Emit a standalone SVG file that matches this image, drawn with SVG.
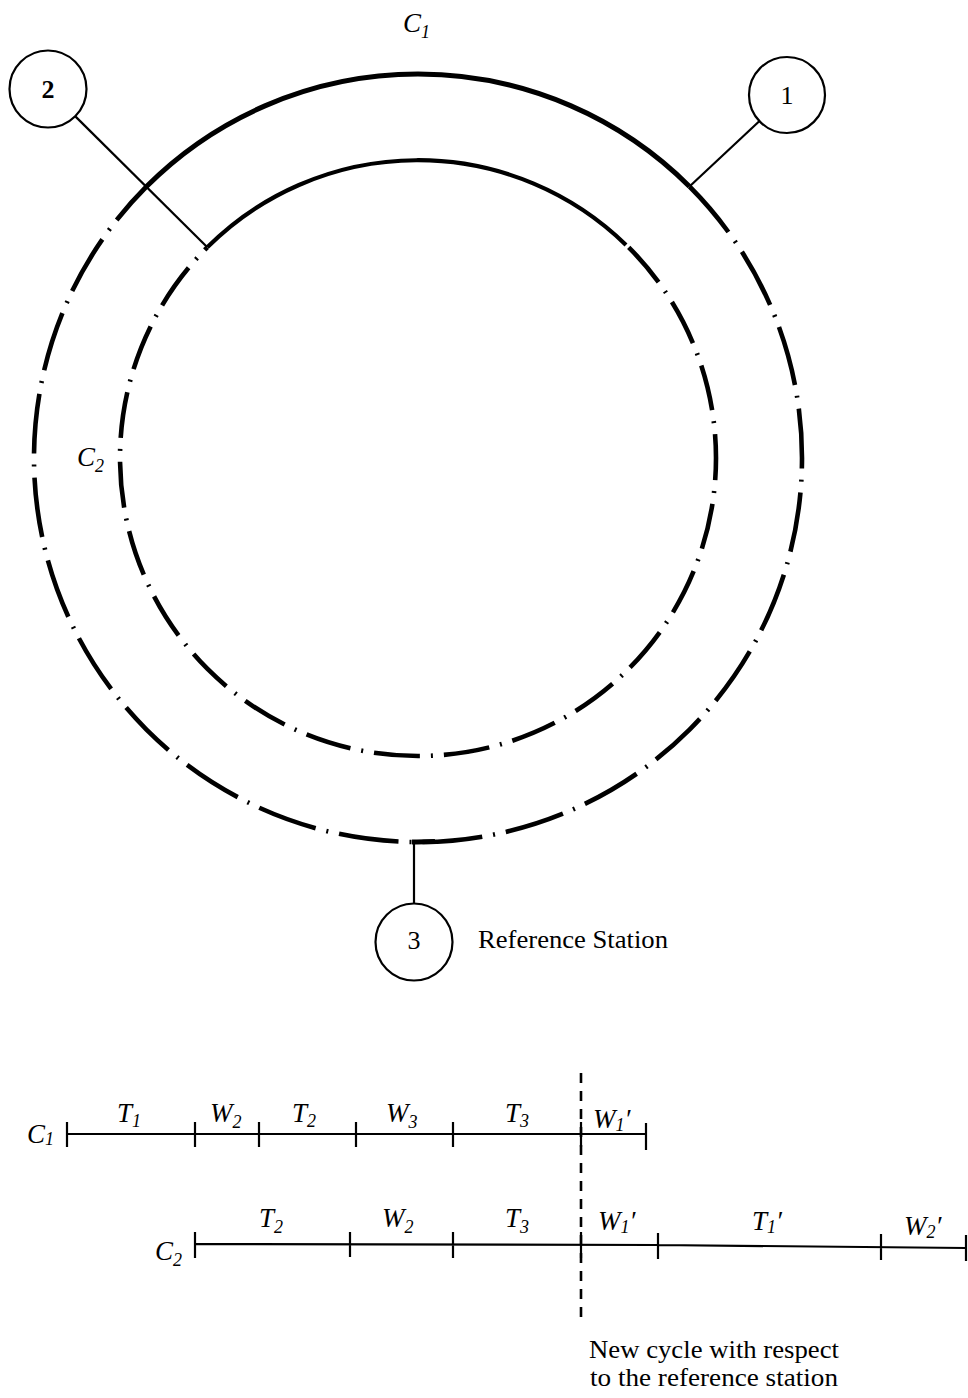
<svg xmlns="http://www.w3.org/2000/svg" width="968" height="1398" viewBox="0 0 968 1398">
<style>
.bg{fill:#fff}
.ring{fill:none;stroke:#000}
.solidO{stroke-width:5}
.solidI{stroke-width:4.2}
.dashO{stroke-width:4.6;stroke-dasharray:60 11 2 11}
.dashI{stroke-width:4.6;stroke-dasharray:46 11 2 11}
.st{fill:#fff;stroke:#000;stroke-width:2.2}
.wire{stroke:#000;stroke-width:2.2;fill:none}
.num{font-family:"Liberation Serif","Times New Roman",serif;font-size:26px;text-anchor:middle;fill:#000}
.txt{font-family:"Liberation Serif","Times New Roman",serif;font-size:26px;fill:#000}
.lab{font-family:"Liberation Serif","Times New Roman",serif;font-style:italic;font-size:27px;fill:#000}
.sub{font-size:18px}
.tl{stroke:#000;stroke-width:2.2;fill:none}
.vd{stroke:#000;stroke-width:2.6;stroke-dasharray:10 8;fill:none}
</style>
<rect class="bg" x="0" y="0" width="968" height="1398"/>
<g id="connectors">
  <path class="ring solidO" d="M 146.5 186.5 A 384 384 0 0 1 689.5 186.5"/>
  <path class="ring dashO" d="M 689.5 186.5 A 384 384 0 1 1 146.5 186.5"/>
  <path class="ring solidO" d="M 412 842 A 384 384 0 0 0 435 841.6"/>
  <path class="ring solidI" d="M 207.3 247.3 A 298 298 0 0 1 626 245"/>
  <path class="ring dashI" d="M 628.7 247.3 A 298 298 0 1 1 207.3 247.3"/>
  <line class="wire" x1="75.6" y1="116.6" x2="207.3" y2="247.3"/>
  <line class="wire" x1="759.5" y1="121" x2="689.5" y2="186.5"/>
  <line class="wire" x1="414" y1="842" x2="414" y2="904"/>
</g>
<g id="ring-labels">
  <text class="lab" x="403" y="32">C<tspan class="sub" dy="6">1</tspan></text>
  <text class="lab" x="77" y="466">C<tspan class="sub" dy="6">2</tspan></text>
</g>
<g id="station2">
  <circle class="st" cx="48" cy="89" r="38.5"/>
  <text class="num" x="48" y="98" font-weight="bold">2</text>
</g>
<g id="station1">
  <circle class="st" cx="787" cy="95" r="38"/>
  <text class="num" x="787" y="104">1</text>
</g>
<g id="station3">
  <circle class="st" cx="414" cy="942" r="38.5"/>
  <text class="num" x="414" y="949">3</text>
  <text class="txt" x="478" y="948" textLength="190" lengthAdjust="spacingAndGlyphs">Reference Station</text>
</g>
<g id="timeline-c1">
  <path class="tl" d="M 67 1134 H 646 M 67 1122 V 1147 M 195 1122 V 1147 M 259 1122 V 1147 M 356 1122 V 1147 M 453 1122 V 1147 M 646 1123 V 1150"/>
  <text class="lab" x="27" y="1143">C<tspan class="sub" dy="2">1</tspan></text>
  <text class="lab" x="117" y="1122">T<tspan class="sub" dy="5">1</tspan></text>
  <text class="lab" x="210" y="1122">W<tspan class="sub" dy="6">2</tspan></text>
  <text class="lab" x="292" y="1122">T<tspan class="sub" dy="5">2</tspan></text>
  <text class="lab" x="386" y="1122">W<tspan class="sub" dy="6">3</tspan></text>
  <text class="lab" x="505" y="1122">T<tspan class="sub" dy="5">3</tspan></text>
  <text class="lab" x="593" y="1128">W<tspan class="sub" dy="3">1</tspan><tspan dy="-3">′</tspan></text>
</g>
<g id="timeline-c2">
  <path class="tl" d="M 195 1244 L 658 1245 L 966 1248 M 195 1232 V 1258 M 350 1232 V 1257 M 453 1232 V 1258 M 658 1233 V 1259 M 881 1234 V 1260 M 966 1235 V 1261"/>
  <text class="lab" x="155" y="1260">C<tspan class="sub" dy="6">2</tspan></text>
  <text class="lab" x="259" y="1227">T<tspan class="sub" dy="6">2</tspan></text>
  <text class="lab" x="382" y="1227">W<tspan class="sub" dy="6">2</tspan></text>
  <text class="lab" x="505" y="1227">T<tspan class="sub" dy="6">3</tspan></text>
  <text class="lab" x="598" y="1230">W<tspan class="sub" dy="3">1</tspan><tspan dy="-3">′</tspan></text>
  <text class="lab" x="752" y="1230">T<tspan class="sub" dy="3">1</tspan><tspan dy="-3">′</tspan></text>
  <text class="lab" x="904" y="1235">W<tspan class="sub" dy="3">2</tspan><tspan dy="-3">′</tspan></text>
</g>
<g id="new-cycle">
  <line class="tl" x1="581" y1="1122" x2="581" y2="1147"/>
  <line class="tl" x1="581" y1="1232" x2="581" y2="1258"/>
  <line class="vd" x1="581" y1="1073" x2="581" y2="1318"/>
  <text class="txt" x="714" y="1358" text-anchor="middle" textLength="250" lengthAdjust="spacingAndGlyphs">New cycle with respect</text>
  <text class="txt" x="714" y="1386" text-anchor="middle" textLength="248" lengthAdjust="spacingAndGlyphs">to the reference station</text>
</g>
</svg>
